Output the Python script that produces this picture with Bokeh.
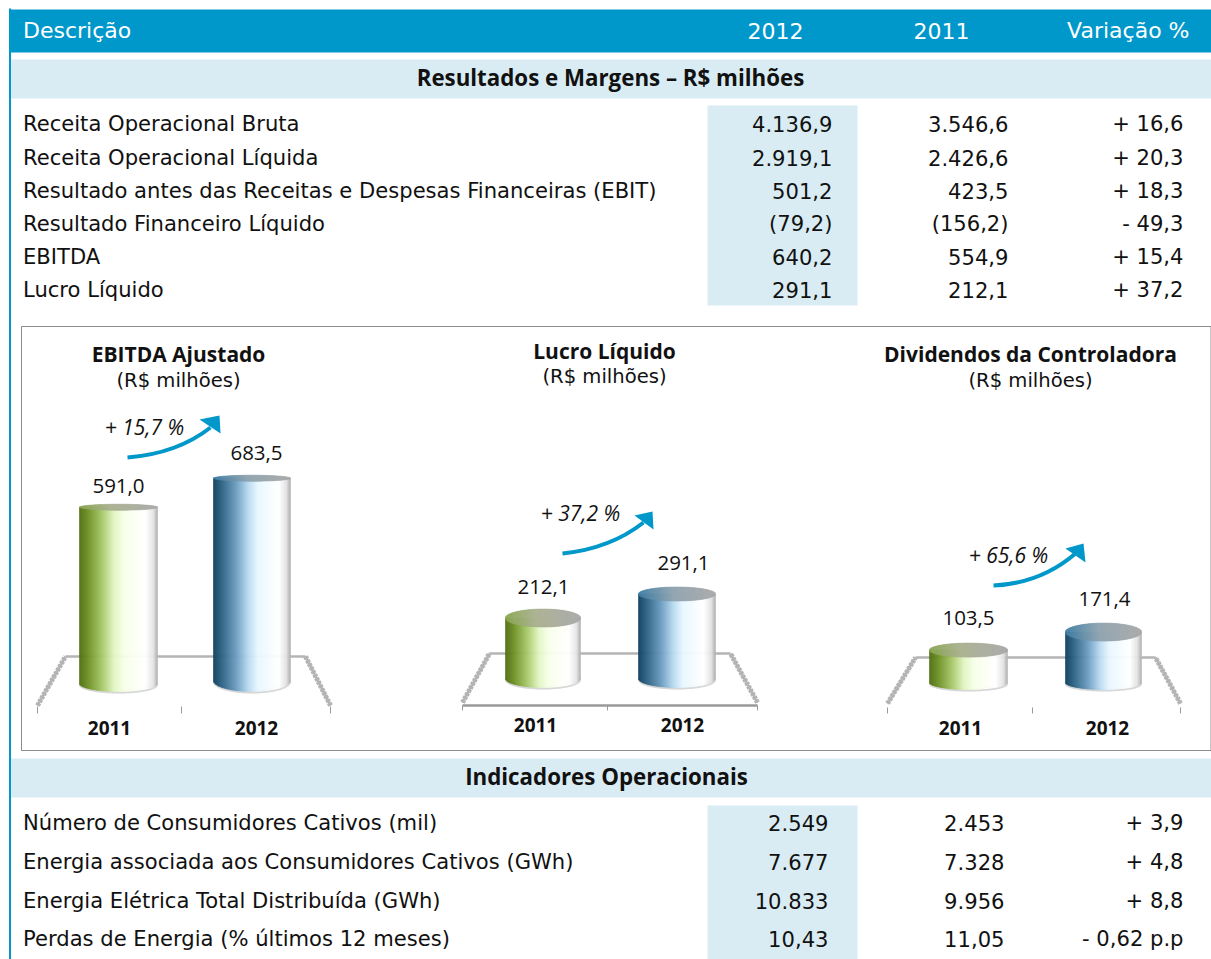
import math
from bokeh.plotting import figure
from bokeh.models import Range1d
from bokeh.core.properties import value
from bokeh.embed import file_html
from bokeh.resources import INLINE

# ---------- data ----------
header = ["Descrição", "2012", "2011", "Variação %"]
section1 = "Resultados e Margens – R$ milhões"
section2 = "Indicadores Operacionais"
rows1_label = ["Receita Operacional Bruta", "Receita Operacional Líquida",
               "Resultado antes das Receitas e Despesas Financeiras (EBIT)",
               "Resultado Financeiro Líquido", "EBITDA", "Lucro Líquido"]
rows1_2012 = ["4.136,9", "2.919,1", "501,2", "(79,2)", "640,2", "291,1"]
rows1_2011 = ["3.546,6", "2.426,6", "423,5", "(156,2)", "554,9", "212,1"]
rows1_var = ["+ 16,6", "+ 20,3", "+ 18,3", "- 49,3", "+ 15,4", "+ 37,2"]
rows2_label = ["Número de Consumidores Cativos (mil)",
               "Energia associada aos Consumidores Cativos (GWh)",
               "Energia Elétrica Total Distribuída (GWh)",
               "Perdas de Energia (% últimos 12 meses)"]
rows2_2012 = ["2.549", "7.677", "10.833", "10,43"]
rows2_2011 = ["2.453", "7.328", "9.956", "11,05"]
rows2_var = ["+ 3,9", "+ 4,8", "+ 8,8", "- 0,62 p.p"]

years = ["2011", "2012"]
ebitda_values = [591.0, 683.5]
ebitda_labels = ["591,0", "683,5"]
lucro_values = [212.1, 291.1]
lucro_labels = ["212,1", "291,1"]
divid_values = [103.5, 171.4]
divid_labels = ["103,5", "171,4"]
growth_labels = ["+ 15,7 %", "+ 37,2 %", "+ 65,6 %"]
panel_titles = ["EBITDA Ajustado", "Lucro Líquido", "Dividendos da Controladora"]
panel_unit = "(R$ milhões)"

# ---------- layout ----------
W, H = 1211, 959
X0, Y0 = 0, 0
FONT = "DejaVu Sans"
ALT = "Open Sans"
BODY = 21.1
BLUE = "#0098cb"
PALE = "#d9ecf3"
INK = "#111111"

p = figure(width=W, height=H, x_range=Range1d(X0, X0 + W), y_range=Range1d(Y0 + H, Y0),
           output_backend="svg", toolbar_location=None, min_border=0,
           outline_line_color=None, background_fill_color="white", border_fill_color="white")
p.xaxis.visible = False
p.yaxis.visible = False
p.grid.visible = False


def txt(x, y, s, size=BODY, align="left", style="normal", color=INK, font=FONT):
    p.text([x], [y], text=[s], text_font=value(font), text_font_size=f"{size}px",
           text_align=align, text_baseline="middle", text_font_style=style, text_color=color)


def box(l, r, t, b, color):
    p.quad(left=[l], right=[r], top=[t], bottom=[b], fill_color=color, line_color=None)


# table backgrounds
box(8.5, 10.5, 8, 959, BLUE)
box(8.5, 1211, 9, 52, BLUE)
box(10.5, 1211, 59, 98, PALE)
box(10.5, 1211, 758, 797, PALE)
box(707, 857, 105, 305, PALE)
box(707, 857, 805, 959, PALE)

txt(22.5, 30, header[0], 22, color="white")
txt(775, 30, header[1], 22, "center", color="white")
txt(941, 30, header[2], 22, "center", color="white")
txt(1189, 30, header[3], 22, "right", color="white")
txt(610, 77, section1, 22.3, "center", "bold", font=ALT)
txt(606, 776, section2, 22.3, "center", "bold", font=ALT)

for lab, a, b, c, y in zip(rows1_label, rows1_2012, rows1_2011, rows1_var, [123, 157, 190, 223, 256, 289]):
    txt(22.5, y, lab)
    txt(832, y, a, align="right")
    txt(1008, y, b, align="right")
    txt(1183, y, c, align="right")
for lab, a, b, c, y in zip(rows2_label, rows2_2012, rows2_2011, rows2_var, [822, 861, 900, 938]):
    txt(22.5, y, lab)
    txt(828, y, a, align="right")
    txt(1004, y, b, align="right")
    txt(1183, y, c, align="right")

# chart panel frame
p.quad(left=[21], right=[1210.5], top=[326], bottom=[750], fill_color="white", line_color="#8c8c8c", line_width=1)

GREEN_STOPS = [(0, "#4f6e12"), (.12, "#6f9126"), (.3, "#a9ca6d"), (.45, "#e2f6c4"), (.58, "#f7ffe9"),
               (.85, "#ffffff"), (.95, "#e4e4e4"), (1, "#b0b0b0")]
BLUE_STOPS = [(0, "#0f3f5e"), (.12, "#2f6486"), (.3, "#6c9dc0"), (.45, "#b5d8ef"), (.58, "#e8f7ff"),
              (.85, "#ffffff"), (.95, "#e2e2e2"), (1, "#b0b0b0")]
GREEN_TOP = [(0, "#8aa651"), (.4, "#a9b08f"), (1, "#a8a8a8")]
BLUE_TOP = [(0, "#3f7da3"), (.45, "#8fa3af"), (1, "#a8a8a8")]


def mix(stops, t):
    for (t0, c0), (t1, c1) in zip(stops, stops[1:]):
        if t <= t1:
            f = (t - t0) / (t1 - t0)
            v = [round(int(c0[i:i + 2], 16) * (1 - f) + int(c1[i:i + 2], 16) * f) for i in (1, 3, 5)]
            return "#%02x%02x%02x" % tuple(v)
    return stops[-1][1]


def cylinder(rng, zero, s, xl, xr, val, side_y, e_top, e_bot, stops, top_stops):
    """body strips measured on the panel's value scale (val -> pixel through rng)"""
    n = int(xr - xl)
    ls, rs, ts, bs, cs = [], [], [], [], []
    tl, tt, tb, tc = [], [], [], []
    sl, st, sb = [], [], []
    for i in range(n):
        u = (i + .5) / n
        w = math.sqrt(max(0, 1 - (2 * u - 1) ** 2))
        lx, rx = xl + i, xl + i + 1
        ls.append(lx); rs.append(rx)
        ts.append(val)
        bs.append((zero - (side_y + e_bot * w)) / s)
        cs.append(mix(stops, u))
        tl.append(lx)
        tt.append(val + e_top * w / s)
        tb.append(val - e_top * w / s)
        tc.append(mix(top_stops, u))
        sl.append(lx)
        st.append((zero - (side_y + e_bot * w - 2)) / s)
        sb.append((zero - (side_y + e_bot * w + 2)) / s)
    p.quad(left=sl, right=[a + 1 for a in sl], top=st, bottom=sb, fill_color="#c9c9c9", line_color=None, y_range_name=rng)
    p.quad(left=ls, right=rs, top=ts, bottom=bs, fill_color=cs, line_color=cs, line_width=.6, y_range_name=rng)
    p.quad(left=tl, right=[a + 1 for a in tl], top=tt, bottom=tb, fill_color=tc, line_color=tc, line_width=.6, y_range_name=rng)


def floor(back_l, back_r, back_y, fl, fr, fy, ticks, tick_t, tick_b, front):
    p.line([back_l, back_r], [back_y, back_y], line_color="#b4b4b4", line_width=2.5)
    for xa, xb in ((fl, back_l), (fr, back_r)):
        p.line([xa, xb], [fy, back_y], line_color="#b4b4b4", line_width=2.5)
        p.line([xa, xb], [fy, back_y], line_color="#b4b4b4", line_width=5, line_dash="3 1")
    if front:
        p.line([fl, fr], [tick_t, tick_t], line_color="#9a9a9a", line_width=2.5)
    p.segment(ticks, [tick_t] * 3, ticks, [tick_b] * 3, line_color="#9a9a9a", line_width=1)


def arrow(x0, y0, cx, cy, x1, y1, head):
    p.quadratic([x0], [y0], [x1], [y1], [cx], [cy], line_color=BLUE, line_width=4)
    p.patch([h[0] for h in head], [h[1] for h in head], fill_color=BLUE, line_color=None)


panels = [
    dict(rng="ebitda", zero=692, s=.3135, vals=ebitda_values, labs=ebitda_labels,
         xs=[(79, 157), (213, 290)], side=[683, 680], et=[3, 3], eb=[8, 11],
         lab_xy=[(118, 485), (256, 452)], yr_xy=[(109, 727), (256, 727)],
         floor=(65, 305, 656, 37, 330, 705, [37, 181, 330], 706, 713, False),
         title=(178, 353, 380), growth=(144, 426),
         arrow=(127, 457, 177, 453, 210, 427, [(219, 415), (199, 419), (220, 433)])),
    dict(rng="lucro", zero=682, s=.304, vals=lucro_values, labs=lucro_labels,
         xs=[(505, 580), (638, 715)], side=[678, 678], et=[9, 7], eb=[9, 9],
         lab_xy=[(543, 586), (683, 562)], yr_xy=[(535, 724), (682, 724)],
         floor=(489, 730, 653, 462, 757, 702, [462, 607, 757], 705, 710, True),
         title=(604, 350, 376), growth=(580, 512),
         arrow=(562, 553, 610, 548, 643, 522, [(652, 511), (634, 515), (653, 529)])),
    dict(rng="divid", zero=677, s=.265, vals=divid_values, labs=divid_labels,
         xs=[(929, 1007), (1065, 1141)], side=[682, 682], et=[7, 9], eb=[7, 7],
         lab_xy=[(968, 617), (1104, 598)], yr_xy=[(960, 727), (1107, 727)],
         floor=(915, 1155, 657, 887, 1180, 703, [887, 1032, 1180], 707, 713, False),
         title=(1030, 353, 380), growth=(1008, 554),
         arrow=(993, 585, 1040, 583, 1075, 553, [(1083, 543), (1065, 548), (1085, 562)])),
]

for i, pn in enumerate(panels):
    s, z = pn["s"], pn["zero"]
    p.extra_y_ranges[pn["rng"]] = Range1d((z - (Y0 + H)) / s, (z - Y0) / s)
    floor(*pn["floor"])
    for j, st, ts in ((0, GREEN_STOPS, GREEN_TOP), (1, BLUE_STOPS, BLUE_TOP)):
        xl, xr = pn["xs"][j]
        cylinder(pn["rng"], z, s, xl, xr, pn["vals"][j], pn["side"][j], pn["et"][j], pn["eb"][j], st, ts)
        txt(pn["lab_xy"][j][0], pn["lab_xy"][j][1], pn["labs"][j], 20.5, "center", font=ALT)
        txt(pn["yr_xy"][j][0], pn["yr_xy"][j][1], years[j], 19, "center", "bold", font=ALT)
    tx, ty1, ty2 = pn["title"]
    txt(tx, ty1, panel_titles[i], 21, "center", "bold", font=ALT)
    txt(tx, ty2, panel_unit, 19.6, "center")
    txt(pn["growth"][0], pn["growth"][1], growth_labels[i], 21, "center", "italic", font=ALT)
    arrow(*pn["arrow"])

open("out.html", "w").write(file_html(p, INLINE))
